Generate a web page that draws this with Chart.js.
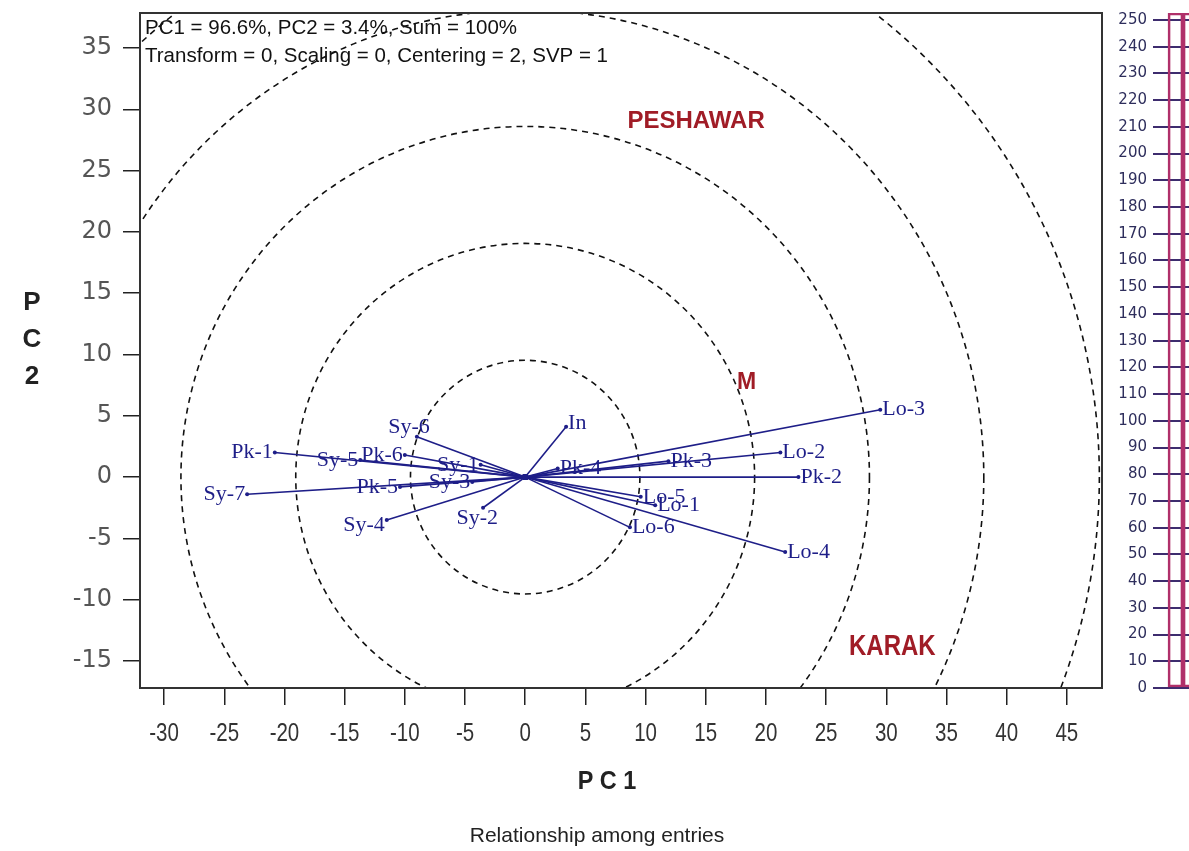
<!DOCTYPE html>
<html>
<head>
<meta charset="utf-8">
<title>Relationship among entries</title>
<script src="https://cdn.jsdelivr.net/npm/chart.js@4/dist/chart.umd.min.js"></script>
<style>
  html, body { margin: 0; padding: 0; background: #fff; }
  #wrap { position: relative; width: 1189px; height: 851px; overflow: hidden; }
  #biplot { position: absolute; left: 0; top: 0; }
  #scaleBar { position: absolute; left: 1100px; top: 0; }
</style>
</head>
<body>
<div id="wrap">
  <canvas id="biplot" width="1189" height="851"></canvas>
  <canvas id="scaleBar" width="113" height="851"></canvas>
</div>
<script>
// entries (vectors from the origin)
const entries = ['Lo-3', 'Lo-2', 'Pk-2', 'Pk-3', 'Pk-4', 'Lo-5', 'Lo-1', 'Lo-6', 'Lo-4', 'In',
                 'Sy-6', 'Pk-1', 'Sy-5', 'Pk-6', 'Sy-1', 'Sy-3', 'Pk-5', 'Sy-7', 'Sy-4', 'Sy-2'];
const pc1 = [29.5, 21.2, 22.7, 11.9, 2.7, 9.6, 10.8, 8.7, 21.6, 3.4,
             -9.0, -20.8, -13.7, -10.0, -3.7, -4.4, -10.4, -23.1, -11.5, -3.5];
const pc2 = [5.5, 2.0, 0.0, 1.3, 0.7, -1.6, -2.3, -4.1, -6.1, 4.1,
             3.3, 2.0, 1.4, 1.8, 1.0, -0.4, -0.8, -1.4, -3.5, -2.5];

// environments
const envNames = ['PESHAWAR', 'M', 'KARAK'];
const envPC1 = [14.2, 18.4, 30.5];
const envPC2 = [29.0, 7.7, -13.8];

// concentric reference circles
const circleRadii = [9.53, 19.06, 28.6, 38.1, 47.7];

const xTickValues = [-30, -25, -20, -15, -10, -5, 0, 5, 10, 15, 20, 25, 30, 35, 40, 45];
const yTickValues = [-15, -10, -5, 0, 5, 10, 15, 20, 25, 30, 35];

const headerLines = ['PC1 = 96.6%, PC2 = 3.4%, Sum = 100%',
                     'Transform = 0, Scaling = 0, Centering = 2, SVP = 1'];

// the cut-off scale on the right
const barScaleTicks = [0, 10, 20, 30, 40, 50, 60, 70, 80, 90, 100, 110, 120, 130,
                       140, 150, 160, 170, 180, 190, 200, 210, 220, 230, 240, 250];
const barSlots = ['', 'a', 'b', ''];
const barValues = [null, 252.6, 252.6, null];

const navy = '#1e1e88';
const labelNudge = { 'Sy-6': [15, -9], 'Sy-2': [17, 10], 'In': [0, -4], 'Sy-4': [0, 5] };
const envFonts = {
    'PESHAWAR': ['bold 24px "Liberation Sans", Arial, sans-serif', 1],
    'M': ['bold 23px "Liberation Sans", Arial, sans-serif', 1],
    'KARAK': ['bold 30px "Liberation Sans", Arial, sans-serif', 0.8]
};

// draw text squeezed horizontally (the bottom captions are narrow)
function narrowText(ctx, text, x, y, sx) {
    ctx.save();
    ctx.translate(x, y);
    ctx.scale(sx, 1);
    ctx.fillText(text, 0, 0);
    ctx.restore();
}

const circlesPlugin = {
    id: 'circles',
    beforeDatasetsDraw(chart) {
        const { ctx, chartArea, scales: { x, y } } = chart;
        const cx = x.getPixelForValue(0), cy = y.getPixelForValue(0);
        ctx.save();
        ctx.beginPath();
        ctx.rect(chartArea.left, chartArea.top, chartArea.right - chartArea.left, chartArea.bottom - chartArea.top);
        ctx.clip();
        ctx.setLineDash([6, 5]);
        ctx.strokeStyle = '#111';
        ctx.lineWidth = 1.6;
        circleRadii.forEach(r => {
            const rx = x.getPixelForValue(r) - cx;
            const ry = cy - y.getPixelForValue(r);
            ctx.beginPath();
            ctx.ellipse(cx, cy, rx, ry, 0, 0, Math.PI * 2);
            ctx.stroke();
        });
        ctx.restore();
    }
};

const labelsPlugin = {
    id: 'entryLabels',
    afterDatasetsDraw(chart) {
        const { ctx, scales: { x, y } } = chart;
        ctx.save();
        ctx.font = '22px "Liberation Serif", "Times New Roman", serif';
        ctx.fillStyle = navy;
        ctx.textBaseline = 'middle';
        entries.forEach((name, i) => {
            const px = x.getPixelForValue(pc1[i]);
            const py = y.getPixelForValue(pc2[i]);
            const nudge = labelNudge[name] || [0, 0];
            if (pc1[i] >= 0) {
                ctx.textAlign = 'left';
                ctx.fillText(name, px + 2 + nudge[0], py + nudge[1]);
            } else {
                ctx.textAlign = 'right';
                ctx.fillText(name, px - 2 + nudge[0], py + nudge[1]);
            }
        });
        // environment names
        ctx.fillStyle = '#a01c26';
        ctx.textAlign = 'center';
        envNames.forEach((name, i) => {
            const [font, sx] = envFonts[name];
            ctx.font = font;
            narrowText(ctx, name, x.getPixelForValue(envPC1[i]), y.getPixelForValue(envPC2[i]), sx);
        });
        ctx.restore();
    }
};

const framePlugin = {
    id: 'frame',
    afterDraw(chart) {
        const { ctx, chartArea: a, scales: { x } } = chart;
        ctx.save();
        ctx.strokeStyle = '#333';
        ctx.lineWidth = 2;
        ctx.strokeRect(a.left, a.top, a.right - a.left, a.bottom - a.top);

        ctx.fillStyle = '#111';
        ctx.font = '20.5px "Liberation Sans", Arial, sans-serif';
        ctx.textAlign = 'left';
        ctx.textBaseline = 'middle';
        ctx.fillText(headerLines[0], a.left + 5, 28);
        ctx.fillText(headerLines[1], a.left + 5, 56);

        // x tick labels, narrow like the original
        ctx.textAlign = 'center';
        ctx.fillStyle = '#333';
        ctx.font = '25px "Liberation Sans", Arial, sans-serif';
        xTickValues.forEach(v => narrowText(ctx, String(v), x.getPixelForValue(v), 734, 0.82));

        ctx.fillStyle = '#222';
        ctx.font = 'bold 26px "Liberation Sans", Arial, sans-serif';
        narrowText(ctx, 'P C 1', 607, 782, 0.9);
        ['P', 'C', '2'].forEach((ch, k) => ctx.fillText(ch, 32, 303 + k * 37));

        ctx.font = '21px "Liberation Sans", Arial, sans-serif';
        ctx.fillText('Relationship among entries', 597, 836);
        ctx.restore();
    }
};

new Chart(document.getElementById('biplot'), {
    type: 'scatter',
    data: {
        datasets: entries.map((name, i) => ({
            label: name,
            data: [{ x: 0, y: 0 }, { x: pc1[i], y: pc2[i] }],
            showLine: true,
            borderColor: navy,
            borderWidth: 1.6,
            backgroundColor: navy,
            pointRadius: [3, 2],
            pointBorderWidth: 0
        }))
    },
    options: {
        responsive: false,
        animation: false,
        devicePixelRatio: 1,
        layout: { padding: { top: 13, right: 87, bottom: 0, left: 0 } },
        plugins: { legend: { display: false }, tooltip: { enabled: false } },
        scales: {
            x: {
                type: 'linear',
                min: -32,
                max: 47.92,
                afterBuildTicks: s => { s.ticks = xTickValues.map(v => ({ value: v })); },
                afterFit: s => { s.height = 163; s.paddingLeft = 0; s.paddingRight = 0; },
                grid: { drawOnChartArea: false, tickLength: 17, color: '#222', lineWidth: 1.5 },
                border: { display: true, color: '#333', width: 2 },
                ticks: { display: false }
            },
            y: {
                type: 'linear',
                min: -17.2,
                max: 37.85,
                afterBuildTicks: s => { s.ticks = yTickValues.map(v => ({ value: v })); },
                afterFit: s => { s.width = 140; s.paddingTop = 0; s.paddingBottom = 0; },
                grid: { drawOnChartArea: false, tickLength: 17, color: '#222', lineWidth: 1.5 },
                border: { display: true, color: '#333', width: 2 },
                ticks: {
                    padding: 11,
                    color: '#555',
                    autoSkip: false,
                    font: { family: '"DejaVu Sans", sans-serif', size: 24 }
                }
            }
        }
    },
    plugins: [circlesPlugin, labelsPlugin, framePlugin]
});

new Chart(document.getElementById('scaleBar'), {
    type: 'bar',
    data: {
        labels: barSlots,
        datasets: [{
            data: barValues,
            backgroundColor: 'rgba(0,0,0,0)',
            borderColor: '#b0306a',
            borderWidth: 2,
            borderSkipped: false,
            barPercentage: 1,
            categoryPercentage: 1
        }]
    },
    options: {
        responsive: false,
        animation: false,
        devicePixelRatio: 1,
        layout: { padding: { top: 13, right: 0, bottom: 163, left: 0 } },
        plugins: { legend: { display: false }, tooltip: { enabled: false } },
        scales: {
            x: { display: false },
            y: {
                min: 0,
                max: 252.6,
                afterBuildTicks: s => { s.ticks = barScaleTicks.map(v => ({ value: v })); },
                afterFit: s => { s.width = 53; s.paddingTop = 0; s.paddingBottom = 0; },
                grid: { color: '#3d2c6e', lineWidth: 2, drawTicks: false },
                border: { display: false },
                ticks: {
                    padding: 6,
                    color: '#2e2e5c',
                    autoSkip: false,
                    font: { family: '"DejaVu Sans", sans-serif', size: 15 }
                }
            }
        }
    }
});
</script>
</body>
</html>
